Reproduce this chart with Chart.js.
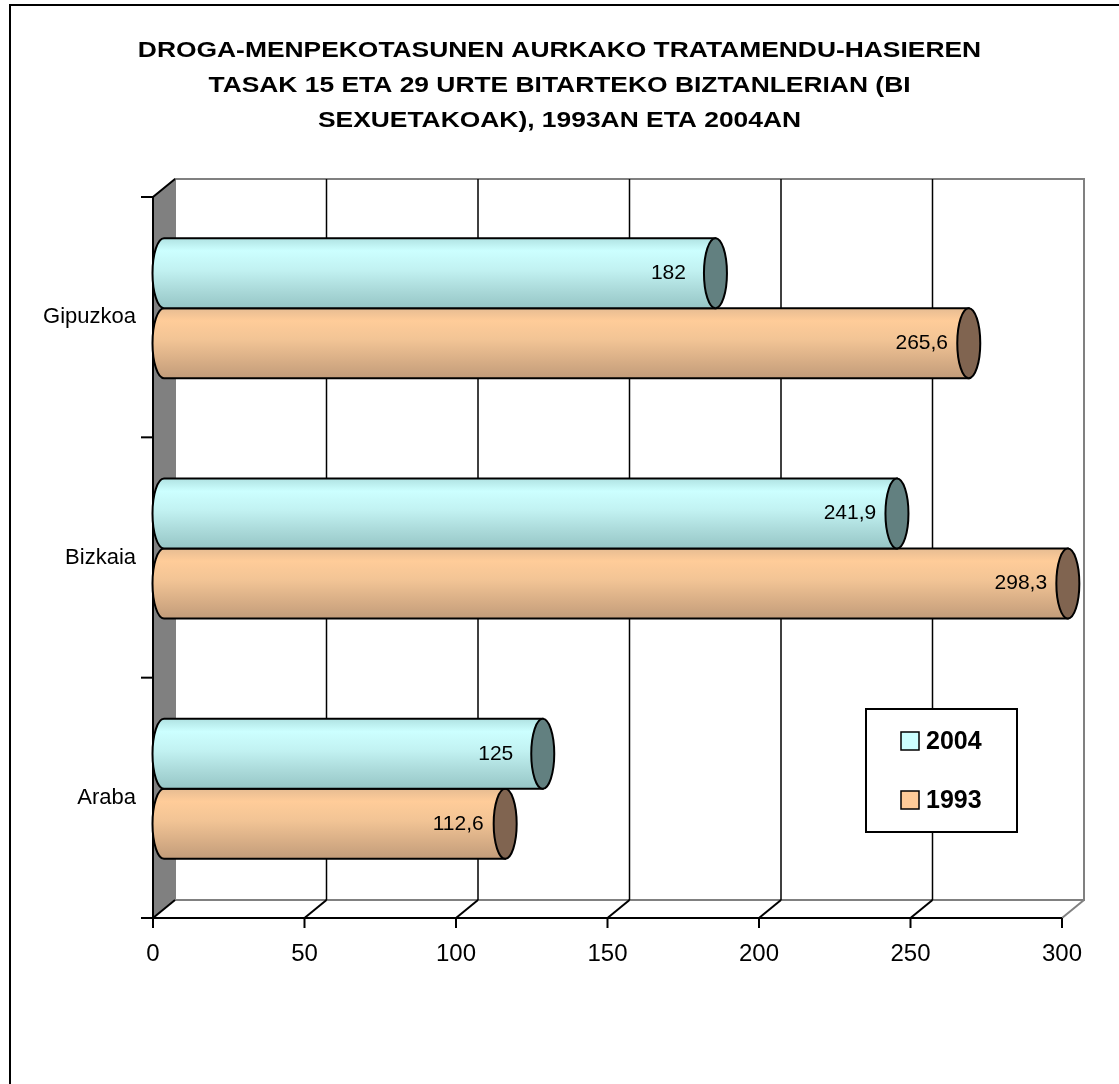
<!DOCTYPE html>
<html>
<head>
<meta charset="utf-8">
<script src="https://cdn.jsdelivr.net/npm/chart.js@4.4.0/dist/chart.umd.min.js"></script>
<style>
  html, body { margin: 0; padding: 0; background: #fff; }
  #wrap { width: 1119px; height: 1084px; }
</style>
</head>
<body>
<div id="wrap"><canvas id="tratChart" width="1119" height="1084"></canvas></div>
<script>
const titleLines = [
    'DROGA-MENPEKOTASUNEN AURKAKO TRATAMENDU-HASIEREN',
    'TASAK 15 ETA 29 URTE BITARTEKO BIZTANLERIAN (BI',
    'SEXUETAKOAK), 1993AN ETA 2004AN'
];
const categories = ['Gipuzkoa', 'Bizkaia', 'Araba'];
const rates2004 = [182, 241.9, 125];
const rates1993 = [265.6, 298.3, 112.6];
const xTickValues = [0, 50, 100, 150, 200, 250, 300];

// 3D depth of the frame
const DX = 22, DY = 18;
const RX = 11.5;
const FONT = '"Liberation Sans", Arial, sans-serif';

Chart.defaults.font.family = FONT;
Chart.defaults.color = '#000';

function fmt(v) {
    return String(v).replace('.', ',');
}

// walls, floor and grid drawn in 3D
const frame3d = {
    id: 'frame3d',
    beforeDatasetsDraw(chart) {
        const ctx = chart.ctx;
        const a = chart.chartArea;
        const xs = chart.scales.x;
        const L = a.left, R = a.right, T = a.top, B = a.bottom;
        ctx.save();

        // outer frame
        ctx.strokeStyle = '#000';
        ctx.lineWidth = 2;
        ctx.beginPath();
        ctx.moveTo(10, 1084);
        ctx.lineTo(10, 5);
        ctx.lineTo(1119, 5);
        ctx.stroke();

        // back wall
        ctx.strokeStyle = '#808080';
        ctx.lineWidth = 2;
        ctx.strokeRect(L + DX, T - DY, R - L, B - T);

        // left wall
        ctx.fillStyle = '#808080';
        ctx.beginPath();
        ctx.moveTo(L, T);
        ctx.lineTo(L + DX, T - DY);
        ctx.lineTo(L + DX, B - DY);
        ctx.lineTo(L, B);
        ctx.closePath();
        ctx.fill();
        ctx.strokeStyle = '#000';
        ctx.beginPath();
        ctx.moveTo(L, B);
        ctx.lineTo(L, T);
        ctx.lineTo(L + DX, T - DY);
        ctx.stroke();

        // vertical grid lines on the back wall
        ctx.lineWidth = 1.5;
        xTickValues.forEach(function(v, i) {
            if (i === 0 || i === xTickValues.length - 1) return;
            const x = xs.getPixelForValue(v) + DX;
            ctx.beginPath();
            ctx.moveTo(x, T - DY);
            ctx.lineTo(x, B - DY);
            ctx.stroke();
        });

        // floor diagonals and tick marks
        xTickValues.forEach(function(v, i) {
            const x = xs.getPixelForValue(v);
            ctx.strokeStyle = i === xTickValues.length - 1 ? '#808080' : '#000';
            ctx.lineWidth = 2;
            ctx.beginPath();
            ctx.moveTo(x, B);
            ctx.lineTo(x + DX, B - DY);
            ctx.stroke();
            ctx.strokeStyle = '#000';
            ctx.beginPath();
            ctx.moveTo(x, B);
            ctx.lineTo(x, B + 10);
            ctx.stroke();
        });

        // front axis line
        ctx.strokeStyle = '#000';
        ctx.lineWidth = 2;
        ctx.beginPath();
        ctx.moveTo(L - 12, B);
        ctx.lineTo(R, B);
        ctx.stroke();

        // category ticks
        const n = categories.length;
        for (let i = 0; i <= n; i++) {
            const y = T + i * (B - T) / n;
            ctx.beginPath();
            ctx.moveTo(L - 12, y);
            ctx.lineTo(L, y);
            ctx.stroke();
        }
        ctx.restore();
    }
};

// cylinders, data labels, legend and title
const cylinders = {
    id: 'cylinders',
    afterDatasetsDraw(chart) {
        const ctx = chart.ctx;
        const ox = DX / 2, oy = -DY / 2;
        ctx.save();
        for (let di = chart.data.datasets.length - 1; di >= 0; di--) {
            const ds = chart.data.datasets[di];
            const meta = chart.getDatasetMeta(di);
            meta.data.forEach(function(bar, i) {
                const p = bar.getProps(['x', 'y', 'base', 'height'], true);
                const ry = p.height / 2;
                const cy = p.y + oy;
                const top = cy - ry, bot = cy + ry;
                const x0 = p.base + ox, x1 = p.x + ox;

                const grad = ctx.createLinearGradient(0, top, 0, bot);
                ds.stops.forEach(function(s) { grad.addColorStop(s[0], s[1]); });

                ctx.beginPath();
                ctx.moveTo(x1, top);
                ctx.lineTo(x0, top);
                ctx.ellipse(x0, cy, RX, ry, 0, -Math.PI / 2, Math.PI / 2, true);
                ctx.lineTo(x1, bot);
                ctx.closePath();
                ctx.fillStyle = grad;
                ctx.fill();
                ctx.strokeStyle = '#000';
                ctx.lineWidth = 2;
                ctx.stroke();

                ctx.beginPath();
                ctx.ellipse(x1, cy, RX, ry, 0, 0, Math.PI * 2);
                ctx.fillStyle = ds.capColor;
                ctx.fill();
                ctx.stroke();

                ctx.fillStyle = '#000';
                ctx.font = '21px ' + FONT;
                ctx.textAlign = 'center';
                ctx.textBaseline = 'middle';
                ctx.fillText(fmt(ds.data[i]), p.x - 36, cy);
            });
        }
        ctx.restore();
    },
    afterDraw(chart) {
        const ctx = chart.ctx;
        ctx.save();

        // title, a little stretched sideways like the original
        ctx.fillStyle = '#000';
        ctx.font = 'bold 22px ' + FONT;
        ctx.textAlign = 'center';
        ctx.textBaseline = 'middle';
        titleLines.forEach(function(t, i) {
            ctx.save();
            ctx.translate(chart.width / 2, 51 + i * 35);
            ctx.scale(1.2, 1);
            ctx.fillText(t, 0, 0);
            ctx.restore();
        });

        // legend
        const bx = 866, by = 709, bw = 151, bh = 123;
        ctx.fillStyle = '#fff';
        ctx.fillRect(bx, by, bw, bh);
        ctx.strokeStyle = '#000';
        ctx.lineWidth = 2;
        ctx.strokeRect(bx, by, bw, bh);
        chart.data.datasets.forEach(function(ds, i) {
            const cy = 741 + i * 59;
            ctx.fillStyle = ds.swatch;
            ctx.fillRect(901, cy - 9, 18, 18);
            ctx.lineWidth = 1.5;
            ctx.strokeRect(901, cy - 9, 18, 18);
            ctx.fillStyle = '#000';
            ctx.font = 'bold 25px ' + FONT;
            ctx.textAlign = 'left';
            ctx.textBaseline = 'middle';
            ctx.fillText(ds.label, 926, cy + 1);
        });
        ctx.restore();
    }
};

new Chart(document.getElementById('tratChart'), {
    type: 'bar',
    data: {
        labels: categories,
        datasets: [
            {
                label: '2004',
                data: rates2004,
                backgroundColor: 'rgba(0,0,0,0)',
                borderWidth: 0,
                swatch: '#ccffff',
                capColor: '#628080',
                stops: [[0, '#b0e2e2'], [0.18, '#ccffff'], [0.45, '#c2f2f2'], [0.75, '#aad9d9'], [1, '#96c6c6']]
            },
            {
                label: '1993',
                data: rates1993,
                backgroundColor: 'rgba(0,0,0,0)',
                borderWidth: 0,
                swatch: '#ffcc99',
                capColor: '#806450',
                stops: [[0, '#e6bc92'], [0.18, '#ffcc99'], [0.45, '#f2c495'], [0.75, '#d8ae86'], [1, '#c29c7a']]
            }
        ]
    },
    options: {
        indexAxis: 'y',
        responsive: false,
        animation: false,
        categoryPercentage: 0.5825,
        barPercentage: 1,
        layout: { padding: { top: 197, right: 57, bottom: 0, left: 0 } },
        plugins: {
            legend: { display: false },
            tooltip: { enabled: false }
        },
        scales: {
            x: {
                min: 0,
                max: 300,
                afterFit: function(scale) { scale.height = 166; },
                afterBuildTicks: function(scale) {
                    scale.ticks = xTickValues.map(function(v) { return { value: v }; });
                },
                grid: { display: false, drawTicks: false },
                border: { display: false },
                ticks: { font: { size: 24 }, padding: 22, color: '#000' }
            },
            y: {
                afterFit: function(scale) { scale.width = 153; },
                grid: { display: false, drawTicks: false },
                border: { display: false },
                ticks: { font: { size: 22 }, padding: 17, color: '#000' }
            }
        }
    },
    plugins: [frame3d, cylinders]
});
</script>
</body>
</html>
